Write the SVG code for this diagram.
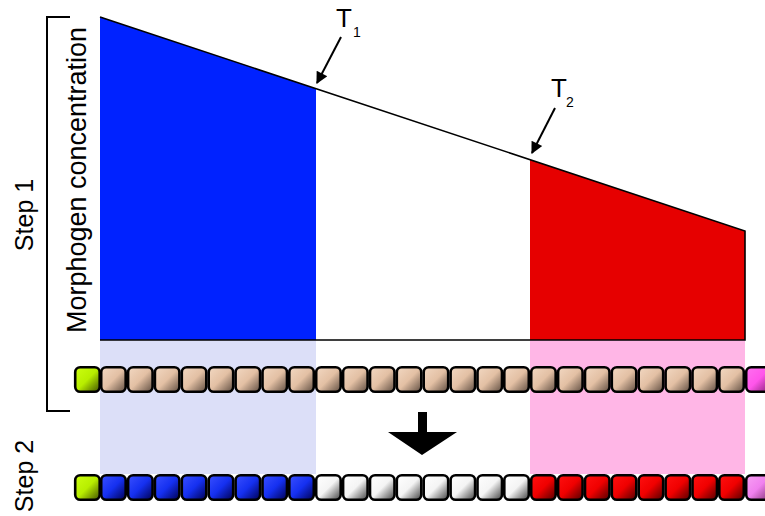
<svg xmlns="http://www.w3.org/2000/svg" width="765" height="516" viewBox="0 0 765 516">
<defs>
<style>
.lbl{font-family:"Liberation Sans",Arial,sans-serif;fill:#000}
.cell{stroke:#000;stroke-width:2.6}
.edge{fill:none;stroke:#000;stroke-width:1.6}
</style>
<linearGradient id="gTan" x1="0" y1="0" x2="1" y2="1"><stop offset="0" stop-color="#f2d8c2"/><stop offset="0.5" stop-color="#e3c0a4"/><stop offset="1" stop-color="#5e4c40"/></linearGradient>
<linearGradient id="gBlue" x1="0" y1="0" x2="1" y2="1"><stop offset="0" stop-color="#3a50ff"/><stop offset="0.5" stop-color="#1530f0"/><stop offset="1" stop-color="#000050"/></linearGradient>
<linearGradient id="gWhite" x1="0" y1="0" x2="1" y2="1"><stop offset="0" stop-color="#ffffff"/><stop offset="0.5" stop-color="#f4f4f4"/><stop offset="1" stop-color="#404040"/></linearGradient>
<linearGradient id="gRed" x1="0" y1="0" x2="1" y2="1"><stop offset="0" stop-color="#ff1010"/><stop offset="0.5" stop-color="#f00000"/><stop offset="1" stop-color="#500000"/></linearGradient>
<linearGradient id="gGreen" x1="0" y1="0" x2="1" y2="1"><stop offset="0" stop-color="#ccff10"/><stop offset="0.5" stop-color="#b8ee00"/><stop offset="1" stop-color="#405000"/></linearGradient>
<linearGradient id="gMag" x1="0" y1="0" x2="1" y2="1"><stop offset="0" stop-color="#ff70f0"/><stop offset="0.5" stop-color="#ff55ea"/><stop offset="1" stop-color="#802070"/></linearGradient>
<linearGradient id="gMag2" x1="0" y1="0" x2="1" y2="1"><stop offset="0" stop-color="#f8a0f4"/><stop offset="0.5" stop-color="#f080ee"/><stop offset="1" stop-color="#803070"/></linearGradient>
<marker id="ah" viewBox="0 0 10 10" refX="9" refY="5" markerWidth="8" markerHeight="6" markerUnits="strokeWidth" orient="auto"><path d="M0,0 L10,5 L0,10 z" fill="#000"/></marker>
</defs>
<rect width="765" height="516" fill="#fff"/>

<g id="shading">
<rect x="100" y="340" width="216" height="134" fill="#dcdff8"/>
<rect x="530" y="340" width="215" height="134" fill="#ffb6e6"/>
</g>

<g id="graph">
<polygon points="100,17 316,88.7 316,340 100,340" fill="#0022ff"/>
<polygon points="530,159.7 745,231 745,340 530,340" fill="#e60000"/>
<polyline class="edge" points="100,17 745,231 745,340 100,340"/>
</g>

<g id="bracket">
<polyline points="70,17 47,17 47,411 70,411" fill="none" stroke="#000" stroke-width="2"/>
</g>

<g id="labels">
<text class="lbl" font-size="25" text-anchor="middle" transform="translate(33,215) rotate(-90)">Step 1</text>
<text class="lbl" font-size="25" text-anchor="middle" transform="translate(33,476) rotate(-90)">Step 2</text>
<text class="lbl" font-size="27" text-anchor="middle" transform="translate(86,180) rotate(-90)">Morphogen concentration</text>
<text class="lbl" font-size="26" x="336" y="27">T</text>
<text class="lbl" font-size="14" x="353" y="37">1</text>
<text class="lbl" font-size="26" x="551" y="97">T</text>
<text class="lbl" font-size="14" x="566" y="107">2</text>
</g>

<g id="connectors">
<line x1="341" y1="37" x2="317" y2="83" stroke="#000" stroke-width="2" marker-end="url(#ah)"/>
<line x1="555" y1="108" x2="532" y2="153" stroke="#000" stroke-width="2" marker-end="url(#ah)"/>
<polygon id="down-arrow" points="418,412 427,412 427,432 457,432 422,455 388,432 418,432" fill="#000"/>
</g>

<g id="row1">
<rect class="cell" x="75.2" y="367.2" width="24.5" height="24.6" rx="5" fill="url(#gGreen)"/>
<rect class="cell" x="101.2" y="367.2" width="24.5" height="24.6" rx="5" fill="url(#gTan)"/>
<rect class="cell" x="128.1" y="367.2" width="24.5" height="24.6" rx="5" fill="url(#gTan)"/>
<rect class="cell" x="154.9" y="367.2" width="24.5" height="24.6" rx="5" fill="url(#gTan)"/>
<rect class="cell" x="181.8" y="367.2" width="24.5" height="24.6" rx="5" fill="url(#gTan)"/>
<rect class="cell" x="208.7" y="367.2" width="24.5" height="24.6" rx="5" fill="url(#gTan)"/>
<rect class="cell" x="235.6" y="367.2" width="24.5" height="24.6" rx="5" fill="url(#gTan)"/>
<rect class="cell" x="262.5" y="367.2" width="24.5" height="24.6" rx="5" fill="url(#gTan)"/>
<rect class="cell" x="289.3" y="367.2" width="24.5" height="24.6" rx="5" fill="url(#gTan)"/>
<rect class="cell" x="316.2" y="367.2" width="24.5" height="24.6" rx="5" fill="url(#gTan)"/>
<rect class="cell" x="343.1" y="367.2" width="24.5" height="24.6" rx="5" fill="url(#gTan)"/>
<rect class="cell" x="370.0" y="367.2" width="24.5" height="24.6" rx="5" fill="url(#gTan)"/>
<rect class="cell" x="396.8" y="367.2" width="24.5" height="24.6" rx="5" fill="url(#gTan)"/>
<rect class="cell" x="423.7" y="367.2" width="24.5" height="24.6" rx="5" fill="url(#gTan)"/>
<rect class="cell" x="450.6" y="367.2" width="24.5" height="24.6" rx="5" fill="url(#gTan)"/>
<rect class="cell" x="477.5" y="367.2" width="24.5" height="24.6" rx="5" fill="url(#gTan)"/>
<rect class="cell" x="504.3" y="367.2" width="24.5" height="24.6" rx="5" fill="url(#gTan)"/>
<rect class="cell" x="531.2" y="367.2" width="24.5" height="24.6" rx="5" fill="url(#gTan)"/>
<rect class="cell" x="558.1" y="367.2" width="24.5" height="24.6" rx="5" fill="url(#gTan)"/>
<rect class="cell" x="585.0" y="367.2" width="24.5" height="24.6" rx="5" fill="url(#gTan)"/>
<rect class="cell" x="611.8" y="367.2" width="24.5" height="24.6" rx="5" fill="url(#gTan)"/>
<rect class="cell" x="638.7" y="367.2" width="24.5" height="24.6" rx="5" fill="url(#gTan)"/>
<rect class="cell" x="665.6" y="367.2" width="24.5" height="24.6" rx="5" fill="url(#gTan)"/>
<rect class="cell" x="692.5" y="367.2" width="24.5" height="24.6" rx="5" fill="url(#gTan)"/>
<rect class="cell" x="719.3" y="367.2" width="24.5" height="24.6" rx="5" fill="url(#gTan)"/>
<rect class="cell" x="746.2" y="367.2" width="24.5" height="24.6" rx="5" fill="url(#gMag)"/>
</g>

<g id="row2">
<rect class="cell" x="75.2" y="475.2" width="24.5" height="24.6" rx="5" fill="url(#gGreen)"/>
<rect class="cell" x="101.2" y="475.2" width="24.5" height="24.6" rx="5" fill="url(#gBlue)"/>
<rect class="cell" x="128.1" y="475.2" width="24.5" height="24.6" rx="5" fill="url(#gBlue)"/>
<rect class="cell" x="154.9" y="475.2" width="24.5" height="24.6" rx="5" fill="url(#gBlue)"/>
<rect class="cell" x="181.8" y="475.2" width="24.5" height="24.6" rx="5" fill="url(#gBlue)"/>
<rect class="cell" x="208.7" y="475.2" width="24.5" height="24.6" rx="5" fill="url(#gBlue)"/>
<rect class="cell" x="235.6" y="475.2" width="24.5" height="24.6" rx="5" fill="url(#gBlue)"/>
<rect class="cell" x="262.5" y="475.2" width="24.5" height="24.6" rx="5" fill="url(#gBlue)"/>
<rect class="cell" x="289.3" y="475.2" width="24.5" height="24.6" rx="5" fill="url(#gBlue)"/>
<rect class="cell" x="316.2" y="475.2" width="24.5" height="24.6" rx="5" fill="url(#gWhite)"/>
<rect class="cell" x="343.1" y="475.2" width="24.5" height="24.6" rx="5" fill="url(#gWhite)"/>
<rect class="cell" x="370.0" y="475.2" width="24.5" height="24.6" rx="5" fill="url(#gWhite)"/>
<rect class="cell" x="396.8" y="475.2" width="24.5" height="24.6" rx="5" fill="url(#gWhite)"/>
<rect class="cell" x="423.7" y="475.2" width="24.5" height="24.6" rx="5" fill="url(#gWhite)"/>
<rect class="cell" x="450.6" y="475.2" width="24.5" height="24.6" rx="5" fill="url(#gWhite)"/>
<rect class="cell" x="477.5" y="475.2" width="24.5" height="24.6" rx="5" fill="url(#gWhite)"/>
<rect class="cell" x="504.3" y="475.2" width="24.5" height="24.6" rx="5" fill="url(#gWhite)"/>
<rect class="cell" x="531.2" y="475.2" width="24.5" height="24.6" rx="5" fill="url(#gRed)"/>
<rect class="cell" x="558.1" y="475.2" width="24.5" height="24.6" rx="5" fill="url(#gRed)"/>
<rect class="cell" x="585.0" y="475.2" width="24.5" height="24.6" rx="5" fill="url(#gRed)"/>
<rect class="cell" x="611.8" y="475.2" width="24.5" height="24.6" rx="5" fill="url(#gRed)"/>
<rect class="cell" x="638.7" y="475.2" width="24.5" height="24.6" rx="5" fill="url(#gRed)"/>
<rect class="cell" x="665.6" y="475.2" width="24.5" height="24.6" rx="5" fill="url(#gRed)"/>
<rect class="cell" x="692.5" y="475.2" width="24.5" height="24.6" rx="5" fill="url(#gRed)"/>
<rect class="cell" x="719.3" y="475.2" width="24.5" height="24.6" rx="5" fill="url(#gRed)"/>
<rect class="cell" x="746.2" y="475.2" width="24.5" height="24.6" rx="5" fill="url(#gMag2)"/>
</g>
</svg>
